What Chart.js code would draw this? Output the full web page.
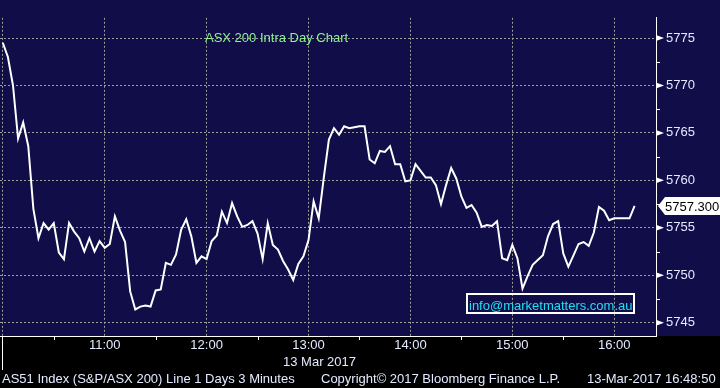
<!DOCTYPE html>
<html><head><meta charset="utf-8">
<script src="https://cdn.jsdelivr.net/npm/chart.js@4"></script>
<style>
html,body{margin:0;padding:0;background:#000;}
#wrap{position:relative;width:720px;height:388px;overflow:hidden;background:#000;}
canvas{position:absolute;left:0;top:0;}
.t{position:absolute;white-space:nowrap;font-family:'Liberation Sans',Arial,sans-serif;font-size:13px;line-height:15px;color:#e4eaff;}
#box{position:absolute;left:466px;top:293px;width:165px;height:17px;border:2px solid #fff;}
</style></head><body>
<div id="wrap">
<canvas id="c" width="720" height="388"></canvas>
<div class="t" style="left:205px;top:30px;color:#8cf58c">ASX 200 Intra Day Chart</div>
<div id="box"></div>
<div class="t" style="left:469px;top:298px;color:#1ee0f0">info@marketmatters.com.au</div>
<div class="t" style="left:283px;top:354px">13 Mar 2017</div>
<div class="t" style="left:2px;top:371px">AS51 Index (S&amp;P/ASX 200) Line 1 Days 3 Minutes</div>
<div class="t" style="left:321px;top:371px">Copyright© 2017 Bloomberg Finance L.P.</div>
<div class="t" style="left:587px;top:371px">13-Mar-2017 16:48:50</div>
</div>
<script>
const times = [
'10:00','10:03','10:06','10:09','10:12','10:15','10:18','10:21','10:24','10:27','10:30','10:33','10:36','10:39','10:42','10:45','10:48','10:51','10:54','10:57',
'11:00','11:03','11:06','11:09','11:12','11:15','11:18','11:21','11:24','11:27','11:30','11:33','11:36','11:39','11:42','11:45','11:48','11:51','11:54','11:57',
'12:00','12:03','12:06','12:09','12:12','12:15','12:18','12:21','12:24','12:27','12:30','12:33','12:36','12:39','12:42','12:45','12:48','12:51','12:54','12:57',
'13:00','13:03','13:06','13:09','13:12','13:15','13:18','13:21','13:24','13:27','13:30','13:33','13:36','13:39','13:42','13:45','13:48','13:51','13:54','13:57',
'14:00','14:03','14:06','14:09','14:12','14:15','14:18','14:21','14:24','14:27','14:30','14:33','14:36','14:39','14:42','14:45','14:48','14:51','14:54','14:57',
'15:00','15:03','15:06','15:09','15:12','15:15','15:18','15:21','15:24','15:27','15:30','15:33','15:36','15:39','15:42','15:45','15:48','15:51','15:54','15:57',
'16:00','16:03','16:06','16:09','16:12'
];
const values = [
5774.5, 5773.0, 5770.0, 5764.4, 5766.1, 5763.6, 5757.0, 5753.9, 5755.5, 5754.8,
5755.5, 5752.4, 5751.7, 5755.5, 5754.6, 5753.9, 5752.5, 5753.9, 5752.5, 5753.6,
5752.9, 5753.3, 5756.2, 5754.7, 5753.5, 5748.3, 5746.4, 5746.7, 5746.8, 5746.7,
5748.4, 5748.5, 5751.3, 5751.1, 5752.2, 5754.8, 5755.9, 5754.1, 5751.3, 5752.0,
5751.7, 5753.6, 5754.2, 5756.7, 5755.5, 5757.6, 5756.2, 5755.1, 5755.3, 5755.7,
5754.4, 5751.7, 5755.5, 5753.2, 5752.7, 5751.5, 5750.6, 5749.5, 5751.2, 5752.0,
5753.7, 5757.8, 5756.0, 5760.3, 5764.3, 5765.5, 5764.8, 5765.7, 5765.5, 5765.6,
5765.7, 5765.7, 5762.2, 5761.8, 5763.1, 5763.0, 5763.6, 5761.7, 5761.7, 5759.9,
5760.0, 5761.7, 5761.0, 5760.3, 5760.3, 5759.5, 5757.5, 5759.5, 5761.3, 5760.2,
5758.3, 5757.1, 5757.4, 5756.6, 5755.1, 5755.3, 5755.2, 5755.7, 5751.8, 5751.6,
5753.2, 5751.8, 5748.6, 5749.9, 5751.1, 5751.6, 5752.1, 5754.1, 5755.4, 5755.7,
5752.3, 5750.9, 5752.1, 5753.3, 5753.5, 5753.1, 5754.5, 5757.2, 5756.8, 5755.8,
5756.0, 5756.0, 5756.0, 5756.0, 5757.3
];
const yTicks = [5745, 5750, 5755, 5760, 5765, 5770, 5775];
const yMinorTicks = [5747.5, 5752.5, 5757.5, 5762.5, 5767.5, 5772.5];
const xTickTimes = ['10:00','11:00','12:00','13:00','14:00','15:00','16:00'];
const xTickLabels = ['', '11:00', '12:00', '13:00', '14:00', '15:00', '16:00'];
const xMinorTimes = ['10:30','11:30','12:30','13:30','14:30','15:30'];

const NAVY = '#100d48';
const toMin = s => { const [h, m] = s.split(':').map(Number); return (h - 10) * 60 + m; };

const deco = {
  id: 'deco',
  beforeDraw(chart) {
    const {ctx, chartArea: a} = chart;
    ctx.save();
    ctx.fillStyle = '#000'; ctx.fillRect(0, 0, chart.width, chart.height);
    ctx.fillStyle = NAVY; ctx.fillRect(0, 0, chart.width, a.bottom);
    ctx.restore();
  },
  afterDraw(chart) {
    const {ctx, chartArea: a, scales: {x, y}} = chart;
    ctx.save();
    ctx.fillStyle = '#fff'; ctx.strokeStyle = '#fff'; ctx.lineWidth = 1;
    yTicks.forEach(v => {
      const py = y.getPixelForValue(v);
      ctx.beginPath(); ctx.moveTo(a.right, py - 3); ctx.lineTo(a.right + 8, py); ctx.lineTo(a.right, py + 3); ctx.closePath(); ctx.fill();
    });
    yMinorTicks.forEach(v => {
      const py = Math.round(y.getPixelForValue(v)) + 0.5;
      ctx.beginPath(); ctx.moveTo(a.right, py); ctx.lineTo(a.right + 4, py); ctx.stroke();
    });
    xMinorTimes.forEach(t => {
      const px = Math.round(x.getPixelForValue(toMin(t))) + 0.5;
      ctx.beginPath(); ctx.moveTo(px, a.bottom); ctx.lineTo(px, a.bottom + 4); ctx.stroke();
    });
    const p0 = Math.round(x.getPixelForValue(toMin(xTickTimes[0]))) - 0.5;
    ctx.beginPath(); ctx.moveTo(p0, a.bottom); ctx.lineTo(p0, a.bottom + 34); ctx.stroke();
    const lv = values[values.length - 1];
    const py = Math.round(y.getPixelForValue(lv));
    ctx.beginPath();
    ctx.moveTo(a.right + 2, py); ctx.lineTo(a.right + 9, py - 9); ctx.lineTo(chart.width, py - 9);
    ctx.lineTo(chart.width, py + 9); ctx.lineTo(a.right + 9, py + 9); ctx.closePath(); ctx.fill();
    ctx.fillStyle = '#000'; ctx.font = '13px "Liberation Sans", Arial, sans-serif';
    ctx.textBaseline = 'middle'; ctx.textAlign = 'left';
    ctx.fillText(lv.toFixed(3), a.right + 9, py + 1);
    ctx.restore();
  }
};

Chart.defaults.font.family = "'Liberation Sans', Arial, sans-serif";
Chart.defaults.font.size = 13;

new Chart(document.getElementById('c'), {
  type: 'line',
  data: {
    datasets: [{
      data: times.map((t, i) => ({x: toMin(t), y: values[i]})),
      borderColor: '#ffffff',
      borderWidth: 2,
      pointRadius: 0,
      tension: 0,
      fill: false
    }]
  },
  options: {
    responsive: false,
    animation: false,
    events: [],
    layout: {padding: 0},
    plugins: {legend: {display: false}, tooltip: {enabled: false}, title: {display: false}},
    scales: {
      x: {
        type: 'linear',
        position: 'bottom',
        min: -1.65,
        max: 384.6,
        afterBuildTicks: s => { s.ticks = xTickTimes.map(t => ({value: toMin(t)})); },
        afterFit: s => { s.height = 52; },
        ticks: {
          color: '#e4eaff',
          padding: 2,
          maxRotation: 0,
          autoSkip: false,
          callback: (v, i) => xTickLabels[i]
        },
        grid: {color: '#a09f96', lineWidth: 1, drawTicks: false},
        border: {display: true, color: '#ffffff', width: 1, dash: [2, 2]}
      },
      y: {
        type: 'linear',
        position: 'right',
        min: 5743.6,
        max: 5777.13,
        afterBuildTicks: s => { s.ticks = yTicks.map(v => ({value: v})); },
        afterFit: s => { s.width = 64; },
        ticks: {
          color: '#e4eaff',
          padding: 10,
          autoSkip: false,
          callback: (v, i) => String(yTicks[i])
        },
        grid: {color: '#a09f96', lineWidth: 1, drawTicks: false},
        border: {display: true, color: '#ffffff', width: 1, dash: [2, 2]}
      }
    }
  },
  plugins: [deco]
});
</script>
</body></html>
